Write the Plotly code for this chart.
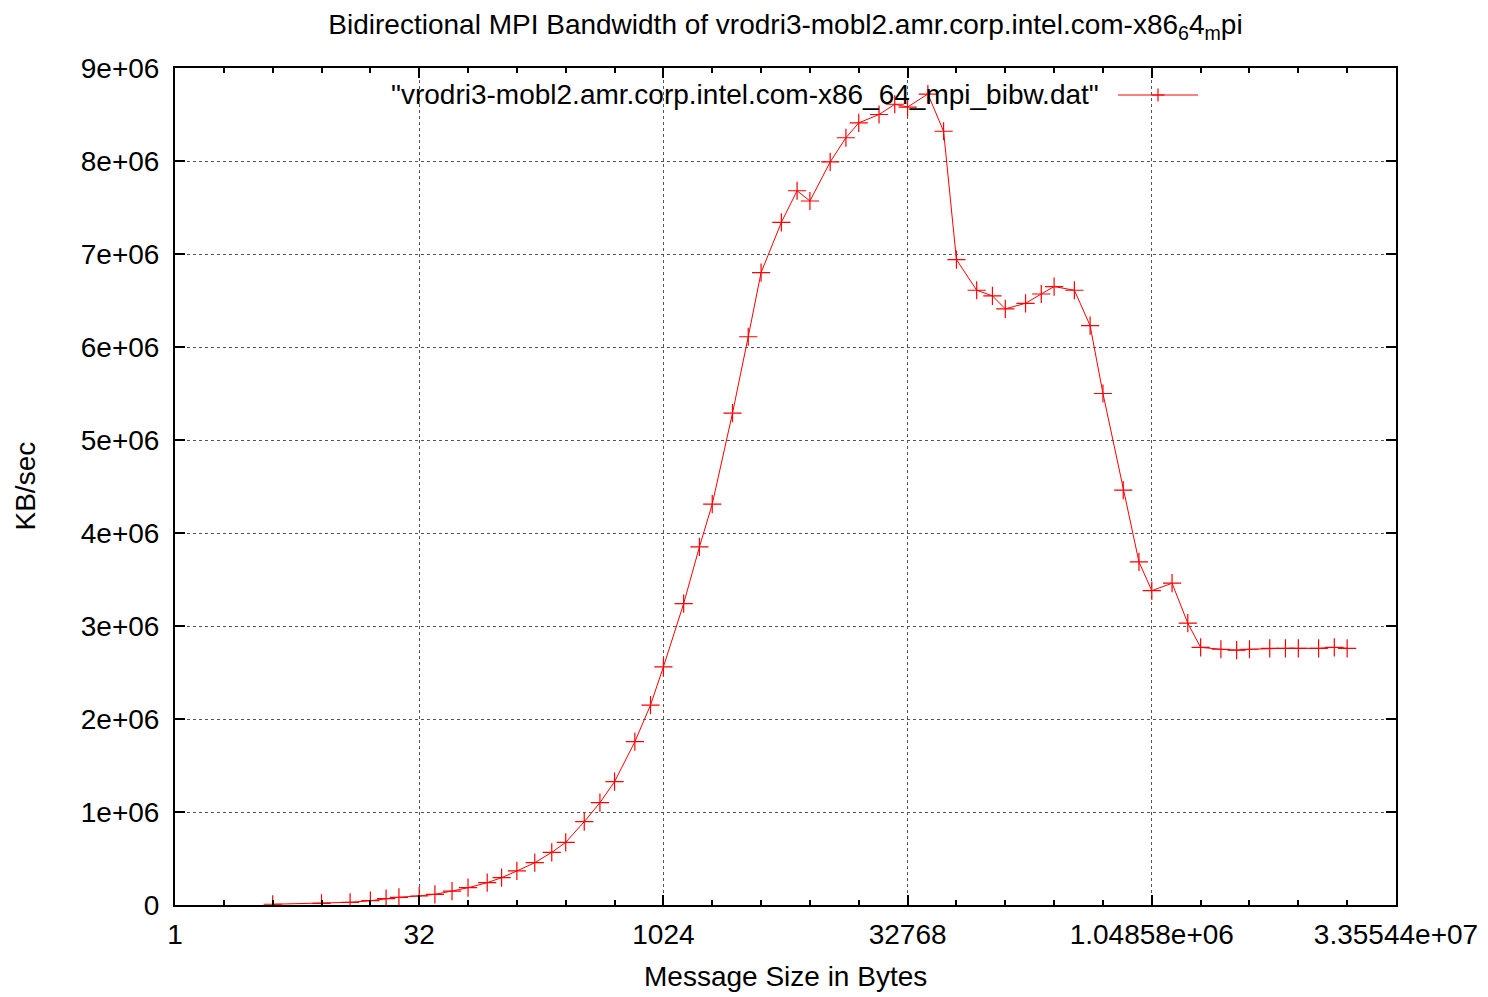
import plotly.graph_objects as go

# Message sizes (bytes) and measured bidirectional bandwidth (KB/sec)
msg_size = [
    4, 8, 12, 16, 20, 24, 32, 40, 51, 64, 84, 103, 128, 165, 210, 256, 333, 416, 512,
    683, 853, 1024, 1365, 1707, 2048, 2731, 3413, 4096, 5461, 6827, 8192,
    10923, 13653, 16384, 21845, 27307, 32768, 43691, 54613, 65536,
    87381, 109227, 131072, 174763, 218453, 262144, 349525, 436907, 524288,
    699051, 873813, 1048576, 1398101, 1747627, 2097152, 2796203, 3495253, 4194304,
    5592405, 6990507, 8388608, 11184811, 13981013, 16777216,
]
bandwidth = [
    8e3, 18e3, 29e3, 46e3, 68e3, 83e3, 97e3, 115e3, 150e3, 186e3, 240e3, 294e3, 366e3,
    455e3, 566e3, 674e3, 896e3, 1.10e6, 1.326e6,
    1.756e6, 2.15e6, 2.56e6, 3.24e6, 3.85e6, 4.31e6, 5.29e6, 6.11e6, 6.80e6, 7.34e6,
    7.68e6, 7.57e6, 7.99e6, 8.25e6, 8.41e6, 8.50e6, 8.61e6, 8.58e6, 8.72e6, 8.32e6,
    6.94e6, 6.61e6, 6.55e6, 6.41e6, 6.47e6, 6.57e6, 6.65e6, 6.61e6, 6.23e6, 5.50e6,
    4.46e6, 3.69e6, 3.38e6, 3.46e6, 3.03e6, 2.77e6, 2.75e6, 2.74e6, 2.75e6,
    2.76e6, 2.76e6, 2.76e6, 2.76e6, 2.77e6, 2.76e6,
]

x_major_vals = [2 ** k for k in range(0, 26, 5)]
x_major_text = ["1", "32", "1024", "32768", "1.04858e+06", "3.35544e+07"]
x_minor_vals = [2 ** k for k in range(1, 25) if k % 5 != 0]
y_tick_vals = [i * 1e6 for i in range(10)]
y_tick_text = ["0"] + [f"{i}e+06" for i in range(1, 10)]

series_name = '"vrodri3-mobl2.amr.corp.intel.com-x86_64_mpi_bibw.dat"'
title_text = "Bidirectional MPI Bandwidth of vrodri3-mobl2.amr.corp.intel.com-x86<sub>6</sub>4<sub>m</sub>pi"

FONT = "Liberation Sans, Arial, Helvetica, sans-serif"
FS = 28
RED = "#ff0000"
GRID = "#555555"

W, H = 1488, 997
L, R, T, B = 175, 1396, 68, 905
pw, ph = R - L, B - T


def px(x):
    return (x - L) / pw


def py(y):
    return (B - y) / ph


fig = go.Figure()
fig.add_trace(go.Scatter(
    x=msg_size, y=bandwidth, mode="lines+markers",
    line=dict(color=RED, width=1),
    marker=dict(symbol="cross-thin", size=13, line=dict(color=RED, width=1.2)),
    showlegend=False,
))

axis_common = dict(
    showline=True, linecolor="black", linewidth=2, mirror="allticks",
    ticks="inside", tickcolor="black", tickwidth=1.5, ticklen=10,
    showgrid=True, gridcolor=GRID, griddash="dot", gridwidth=1,
    zeroline=False, tickfont=dict(family=FONT, size=FS, color="black"),
)

fig.update_xaxes(
    type="log", range=[0, 25 * 0.30102999566], tickmode="array",
    tickvals=x_major_vals, ticktext=x_major_text,
    minor=dict(tickmode="array", tickvals=x_minor_vals, ticklen=5,
               tickcolor="black", tickwidth=1.5, ticks="inside", showgrid=False),
    ticklabelstandoff=3,
    **axis_common,
)
fig.update_yaxes(
    range=[0, 9e6], tickmode="array", tickvals=y_tick_vals, ticktext=y_tick_text,
    ticklabelstandoff=8,
    **axis_common,
)

# key: label on the left, line sample with a cross on the right
key_y = py(95)
fig.add_annotation(
    x=px(1101), y=key_y, xref="paper", yref="paper", text=series_name,
    showarrow=False, xanchor="right", yanchor="middle",
    font=dict(family=FONT, size=FS, color="black"),
)
fig.add_shape(type="line", xref="paper", yref="paper",
              x0=px(1118), x1=px(1198), y0=key_y, y1=key_y,
              line=dict(color=RED, width=1))
fig.add_shape(type="line", xref="paper", yref="paper",
              x0=px(1151.5), x1=px(1164.5), y0=key_y, y1=key_y,
              line=dict(color=RED, width=1.2))
fig.add_shape(type="line", xref="paper", yref="paper",
              x0=px(1158), x1=px(1158), y0=py(88.5), y1=py(101.5),
              line=dict(color=RED, width=1.2))

# axis titles
fig.add_annotation(
    x=px(25), y=0.5, xref="paper", yref="paper", text="KB/sec",
    showarrow=False, textangle=-90, xanchor="center", yanchor="middle",
    font=dict(family=FONT, size=FS, color="black"),
)
fig.add_annotation(
    x=0.5, y=py(976), xref="paper", yref="paper", text="Message Size in Bytes",
    showarrow=False, xanchor="center", yanchor="middle",
    font=dict(family=FONT, size=FS, color="black"),
)

fig.update_layout(
    width=W, height=H,
    margin=dict(l=L, r=W - R, t=T, b=H - B, autoexpand=False),
    paper_bgcolor="white", plot_bgcolor="white",
    title=dict(text=title_text, x=px(785.5), xref="paper", xanchor="center",
               y=1 - 24 / H, yref="container", yanchor="middle",
               font=dict(family=FONT, size=FS, color="black")),
    font=dict(family=FONT, size=FS, color="black"),
)

fig.write_html("out.html")
